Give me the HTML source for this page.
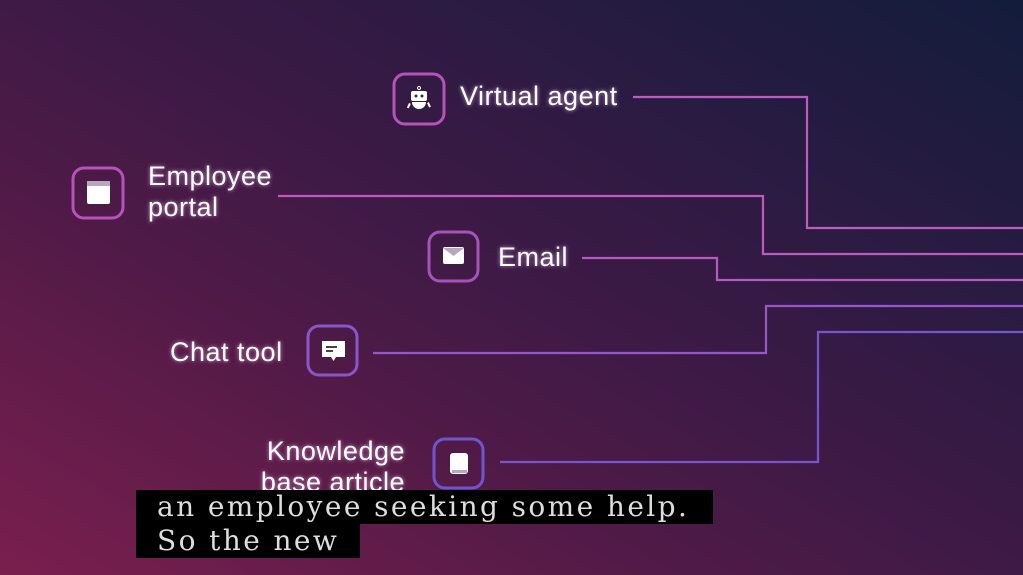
<!DOCTYPE html>
<html><head><meta charset="utf-8"><style>
html,body{margin:0;padding:0;width:1023px;height:575px;overflow:hidden}
body{background:linear-gradient(30deg,#7a1f4e 0%,#4f1a47 35%,#3a1a45 55%,#131c3c 100%);position:relative;font-family:"Liberation Sans",sans-serif}
.t{position:absolute;color:#fff;font-size:27px;letter-spacing:0.5px;line-height:31px;text-shadow:0 0 4px rgba(255,200,255,.7)}
.cap{position:absolute;background:#000;color:#ddd;font-family:"DejaVu Serif","Liberation Serif",serif;font-size:28px;letter-spacing:2.4px;line-height:34px;padding-left:21px;white-space:nowrap}
</style></head><body>
<svg width="1023" height="575" style="position:absolute;left:0;top:0">
<g fill="none" stroke-width="2.2">
<polyline points="633,97 807,97 807,228 1023,228" stroke="#bb5cbf"/>
<polyline points="278,196 763,196 763,254 1023,254" stroke="#c058c2"/>
<polyline points="582,258 717,258 717,280 1023,280" stroke="#b65abf"/>
<polyline points="373,353 766,353 766,306 1023,306" stroke="#9658c8"/>
<polyline points="500,462 818,462 818,332 1023,332" stroke="#7655d0"/>
</g>
<g fill="none" stroke-width="3">
<rect x="394" y="74" width="50" height="50" rx="11" stroke="#b653b8"/>
<rect x="73" y="168" width="50" height="50" rx="11" stroke="#b653b8"/>
<rect x="429" y="232" width="49" height="49" rx="11" stroke="#a653b8"/>
<rect x="308" y="326" width="49" height="49" rx="11" stroke="#8a55c8"/>
<rect x="434" y="439" width="49" height="49" rx="11" stroke="#6e55d0"/>
</g>
<g fill="#fff"><circle cx="419" cy="88" r="1.5" fill="none" stroke="#fff"/><rect x="411" y="91" width="16" height="10" rx="2"/><path d="M412 102h14a7 7 0 0 1-14 0z"/><rect x="409" y="103" width="2" height="5" transform="rotate(25 409 103)"/><rect x="427" y="103" width="2" height="5" transform="rotate(-25 427 103)"/></g>
<circle cx="416" cy="96" r="1.5" fill="#333"/><circle cx="422" cy="96" r="1.5" fill="#333"/>
<rect x="87" y="181" width="23" height="23" rx="2" fill="#fff"/><rect x="87" y="181" width="23" height="5" fill="#b9a6c0"/>
<rect x="443" y="247" width="21" height="17" rx="2" fill="#fff"/><path d="M443 248l10.5 8 10.5-8" fill="#b9a6c0"/>
<path d="M322 341h23v16h-9l-2.5 4-2.5-4h-9z" fill="#fff"/><rect x="326" y="346" width="11" height="2" fill="#444"/><rect x="326" y="350" width="7" height="2" fill="#444"/>
<rect x="450" y="453" width="18" height="21" rx="3" fill="#fff"/><rect x="452" y="470" width="15" height="3" fill="#b9a6c0"/>
</svg>
<div class="t" style="left:460px;top:81px">Virtual agent</div>
<div class="t" style="left:148px;top:161px">Employee<br>portal</div>
<div class="t" style="left:498px;top:242px">Email</div>
<div class="t" style="left:170px;top:337px">Chat tool</div>
<div class="t" style="left:243px;top:436px;text-align:right;width:162px">Knowledge<br>base article</div>
<div class="cap" style="left:136px;top:490px;width:556px">an employee seeking some help.</div>
<div class="cap" style="left:136px;top:524px;width:203px">So the new</div>
</body></html>
